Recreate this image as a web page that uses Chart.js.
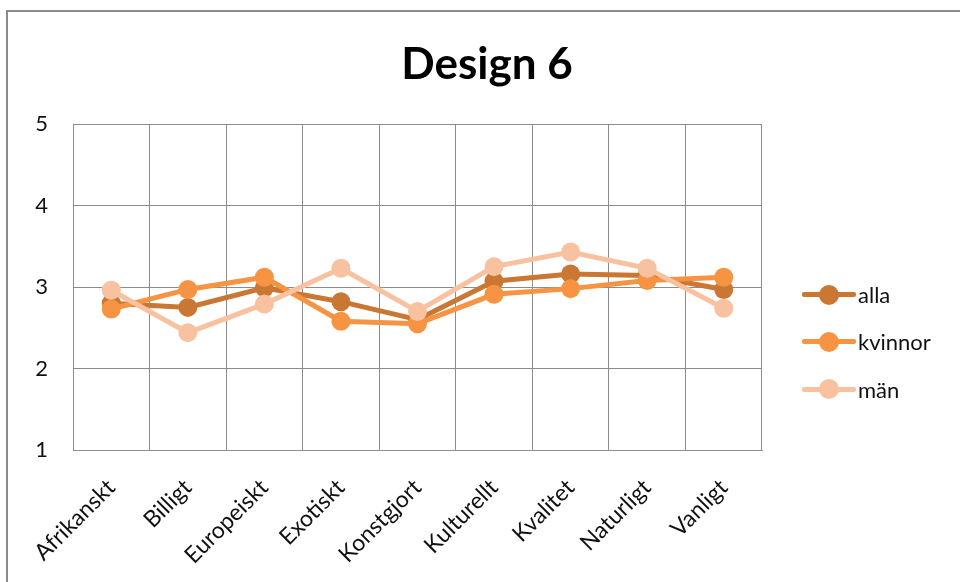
<!DOCTYPE html>
<html lang="sv">
<head>
<meta charset="UTF-8">
<title>Design 6</title>
<script src="https://cdn.jsdelivr.net/npm/chart.js@4.4.1/dist/chart.umd.min.js"></script>
<style>
  html, body { margin: 0; padding: 0; background: #fff; overflow: hidden; }
  #wrap { position: relative; width: 960px; height: 582px; overflow: hidden; }
  #frame { position: absolute; left: 6px; top: 10px; width: 1000px; height: 1000px;
           border: 2px solid #8a8a8a; box-sizing: border-box; }
  #chart { position: absolute; left: 0; top: 0; }
  #title { position: absolute; left: 287px; width: 400px; top: 34px; text-align: center;
           font-family: Lato, "Open Sans", sans-serif; font-weight: bold; font-size: 44px;
           line-height: 56px; color: #000; }
  #legend { position: absolute; left: 802px; top: 271px; font-family: Lato, "Open Sans", sans-serif;
            font-size: 22px; color: #111; }
  .item { display: flex; align-items: center; height: 47.3px; }
  .sym { position: relative; width: 54px; height: 20px; margin-right: 2px; }
  .sym .ln { position: absolute; left: 0; right: 0; top: 7.5px; height: 5px; border-radius: 2px; }
  .sym .dot { position: absolute; left: 17px; top: 0; width: 20px; height: 20px; border-radius: 50%; }
</style>
</head>
<body>
<div id="wrap">
  <div id="frame"></div>
  <canvas id="chart" width="960" height="582"></canvas>
  <div id="title">Design 6</div>
  <div id="legend"></div>
</div>
<script>
// categories and series
const categories = ['Afrikanskt', 'Billigt', 'Europeiskt', 'Exotiskt', 'Konstgjort', 'Kulturellt', 'Kvalitet', 'Naturligt', 'Vanligt'];
const alla    = [2.80, 2.75, 2.99, 2.82, 2.60, 3.07, 3.16, 3.14, 2.97];
const kvinnor = [2.73, 2.97, 3.12, 2.58, 2.55, 2.91, 2.98, 3.08, 3.12];
const man     = [2.96, 2.44, 2.79, 3.23, 2.70, 3.25, 3.43, 3.23, 2.74];
const yTicks  = [1, 2, 3, 4, 5];

const series = [
  { label: 'alla',    data: alla,    color: '#C97733', order: 3 },
  { label: 'kvinnor', data: kvinnor, color: '#F79443', order: 2 },
  { label: 'män',     data: man,     color: '#F8C1A0', order: 1 }
];

const ctx = document.getElementById('chart').getContext('2d');
new Chart(ctx, {
  type: 'line',
  data: {
    labels: categories,
    datasets: series.map(s => ({
      label: s.label,
      data: s.data,
      order: s.order,
      borderColor: s.color,
      backgroundColor: s.color,
      pointBackgroundColor: s.color,
      pointBorderColor: s.color,
      borderWidth: 5,
      pointRadius: 9.5,
      pointBorderWidth: 0,
      tension: 0,
      fill: false
    }))
  },
  options: {
    responsive: false,
    animation: false,
    layout: { padding: { left: 0, right: 198, top: 124, bottom: 0 } },
    plugins: {
      legend: { display: false },
      tooltip: { enabled: false },
      title: { display: false }
    },
    scales: {
      x: {
        offset: true,
        grid: { offset: true, color: '#8c8c8c', lineWidth: 1, drawTicks: false },
        border: { color: '#8c8c8c', width: 1 },
        ticks: {
          color: '#111',
          font: { family: 'Lato, "Open Sans", sans-serif', size: 23 },
          minRotation: 45, maxRotation: 45, padding: 24, autoSkip: false
        },
        afterFit: scale => { scale.height = 132; }
      },
      y: {
        min: 1, max: 5,
        afterBuildTicks: scale => { scale.ticks = yTicks.map(v => ({ value: v })); },
        grid: { color: '#8c8c8c', lineWidth: 1, drawTicks: false },
        border: { color: '#8c8c8c', width: 1 },
        ticks: {
          color: '#111',
          font: { family: 'Lato, "Open Sans", sans-serif', size: 22 },
          padding: 25
        },
        afterFit: scale => { scale.width = 73; }
      }
    }
  }
});

// legend: line with a marker, like the office legend
const legend = document.getElementById('legend');
series.forEach(s => {
  const item = document.createElement('div');
  item.className = 'item';
  item.innerHTML = '<div class="sym"><div class="ln" style="background:' + s.color + '"></div>' +
                   '<div class="dot" style="background:' + s.color + '"></div></div>' +
                   '<span>' + s.label + '</span>';
  legend.appendChild(item);
});
</script>
</body>
</html>
